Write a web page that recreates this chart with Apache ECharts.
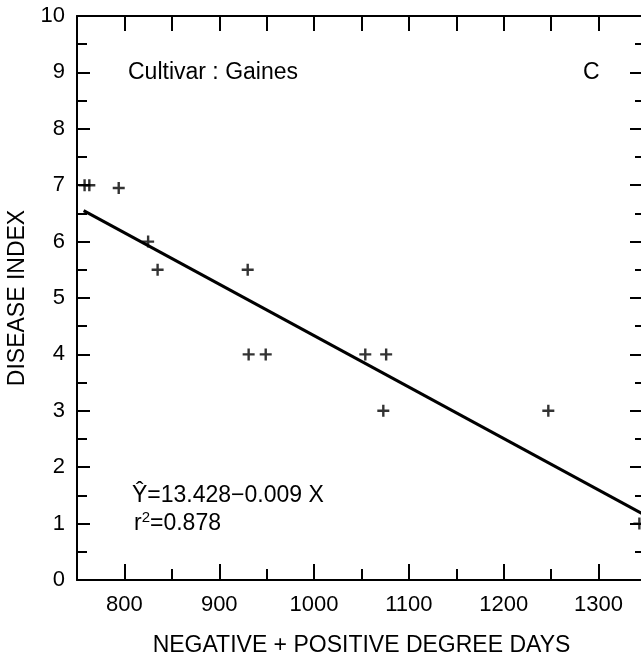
<!DOCTYPE html>
<html>
<head>
<meta charset="utf-8">
<script src="https://cdn.jsdelivr.net/npm/echarts@6/dist/echarts.min.js"></script>
<style>
  html, body { margin: 0; padding: 0; background: #fff; }
  #main { width: 641px; height: 662px; }
</style>
</head>
<body>
<div id="main"></div>
<script>
// data
const degreeDays = [758, 763, 794, 825, 835, 930, 931, 949, 1054, 1076, 1073, 1247, 1343];
const diseaseIndex = [7, 7, 6.95, 6, 5.5, 5.5, 4, 4, 4, 4, 3, 3, 1];
// fitted line end points
const fitX = [757, 1350];
const fitY = [6.55, 1.14];
const xMajorTicks = [800, 900, 1000, 1100, 1200, 1300];
const xMinorTicks = [850, 950, 1050, 1150, 1250];
const xTopTicks = [800, 850, 900, 950, 1000, 1050, 1100, 1150, 1200, 1250, 1300];

const FONT = "Liberation Sans";
const black = "#000";

const chart = echarts.init(document.getElementById("main"));

// plus marker
const plus = "path://M4,0H6V4H10V6H6V10H4V6H0V4H4Z";

const xBase = {
  type: "value",
  min: 750,
  max: 1350,
  splitLine: { show: false },
};

chart.setOption({
  animation: false,
  backgroundColor: "#fff",
  grid: { left: 77, top: 16, right: -5, bottom: 82, outerBoundsMode: "none", containLabel: false },
  xAxis: [
    Object.assign({}, xBase, {
      position: "bottom",
      name: "NEGATIVE + POSITIVE DEGREE DAYS",
      nameLocation: "middle",
      nameGap: 54,
      nameTextStyle: { fontFamily: FONT, fontSize: 23, color: black },
      axisLine: { lineStyle: { color: black, width: 2 } },
      axisTick: { inside: true, length: 16, customValues: xMajorTicks, lineStyle: { color: black, width: 2 } },
      axisLabel: {
        customValues: xMajorTicks,
        margin: 14,
        fontFamily: FONT,
        fontSize: 22,
        color: black,
        formatter: (v) => String(v),
      },
    }),
    Object.assign({}, xBase, {
      position: "bottom",
      axisLine: { show: false },
      axisTick: { inside: true, length: 11, customValues: xMinorTicks, lineStyle: { color: black, width: 2 } },
      axisLabel: { show: false },
    }),
    Object.assign({}, xBase, {
      position: "top",
      axisLine: { lineStyle: { color: black, width: 2 } },
      axisTick: { inside: true, length: 15, customValues: xTopTicks, lineStyle: { color: black, width: 2 } },
      axisLabel: { show: false },
    }),
  ],
  yAxis: [
    {
      type: "value",
      position: "left",
      min: 0,
      max: 10,
      interval: 1,
      name: "DISEASE INDEX",
      nameLocation: "middle",
      nameGap: 46,
      nameTextStyle: { fontFamily: FONT, fontSize: 23, color: black },
      splitLine: { show: false },
      axisLine: { show: true, lineStyle: { color: black, width: 2 } },
      axisTick: { show: true, inside: true, length: 13, lineStyle: { color: black, width: 2 } },
      minorTick: { show: true, splitNumber: 2, length: 10, lineStyle: { color: black, width: 2 } },
      axisLabel: { margin: 12, fontFamily: FONT, fontSize: 22, color: black },
    },
    {
      type: "value",
      position: "right",
      min: 0,
      max: 10,
      interval: 1,
      splitLine: { show: false },
      axisLine: { show: true, lineStyle: { color: black, width: 2 } },
      axisTick: { show: true, inside: true, length: 16, lineStyle: { color: black, width: 2 } },
      minorTick: { show: true, splitNumber: 2, length: 11, lineStyle: { color: black, width: 2 } },
      axisLabel: { show: false },
    },
  ],
  graphic: [
    {
      type: "text",
      left: 128,
      top: 61,
      style: { text: "Cultivar : Gaines", font: "23px '" + FONT + "'", fill: black },
    },
    {
      type: "text",
      left: 583,
      top: 61,
      style: { text: "C", font: "23px '" + FONT + "'", fill: black },
    },
    {
      type: "text",
      left: 132,
      top: 484,
      style: { text: "Ŷ=13.428−0.009 X", font: "23px '" + FONT + "'", fill: black },
    },
    {
      type: "text",
      left: 134,
      top: 510,
      style: {
        text: "{b|r}{s|2}{b|=0.878}",
        fill: black,
        rich: {
          b: { fontFamily: FONT, fontSize: 23, color: black, lineHeight: 28 },
          s: { fontFamily: FONT, fontSize: 15, color: black, lineHeight: 28, padding: [0, 0, 12, 0] },
        },
      },
    },
  ],
  series: [
    {
      type: "line",
      xAxisIndex: 0,
      yAxisIndex: 0,
      data: fitX.map((x, i) => [x, fitY[i]]),
      showSymbol: false,
      lineStyle: { color: black, width: 3 },
      silent: true,
    },
    {
      type: "scatter",
      xAxisIndex: 0,
      yAxisIndex: 0,
      data: degreeDays.map((x, i) => [x, diseaseIndex[i]]),
      symbol: plus,
      symbolSize: 12,
      itemStyle: { color: black },
    },
  ],
});
</script>
</body>
</html>
